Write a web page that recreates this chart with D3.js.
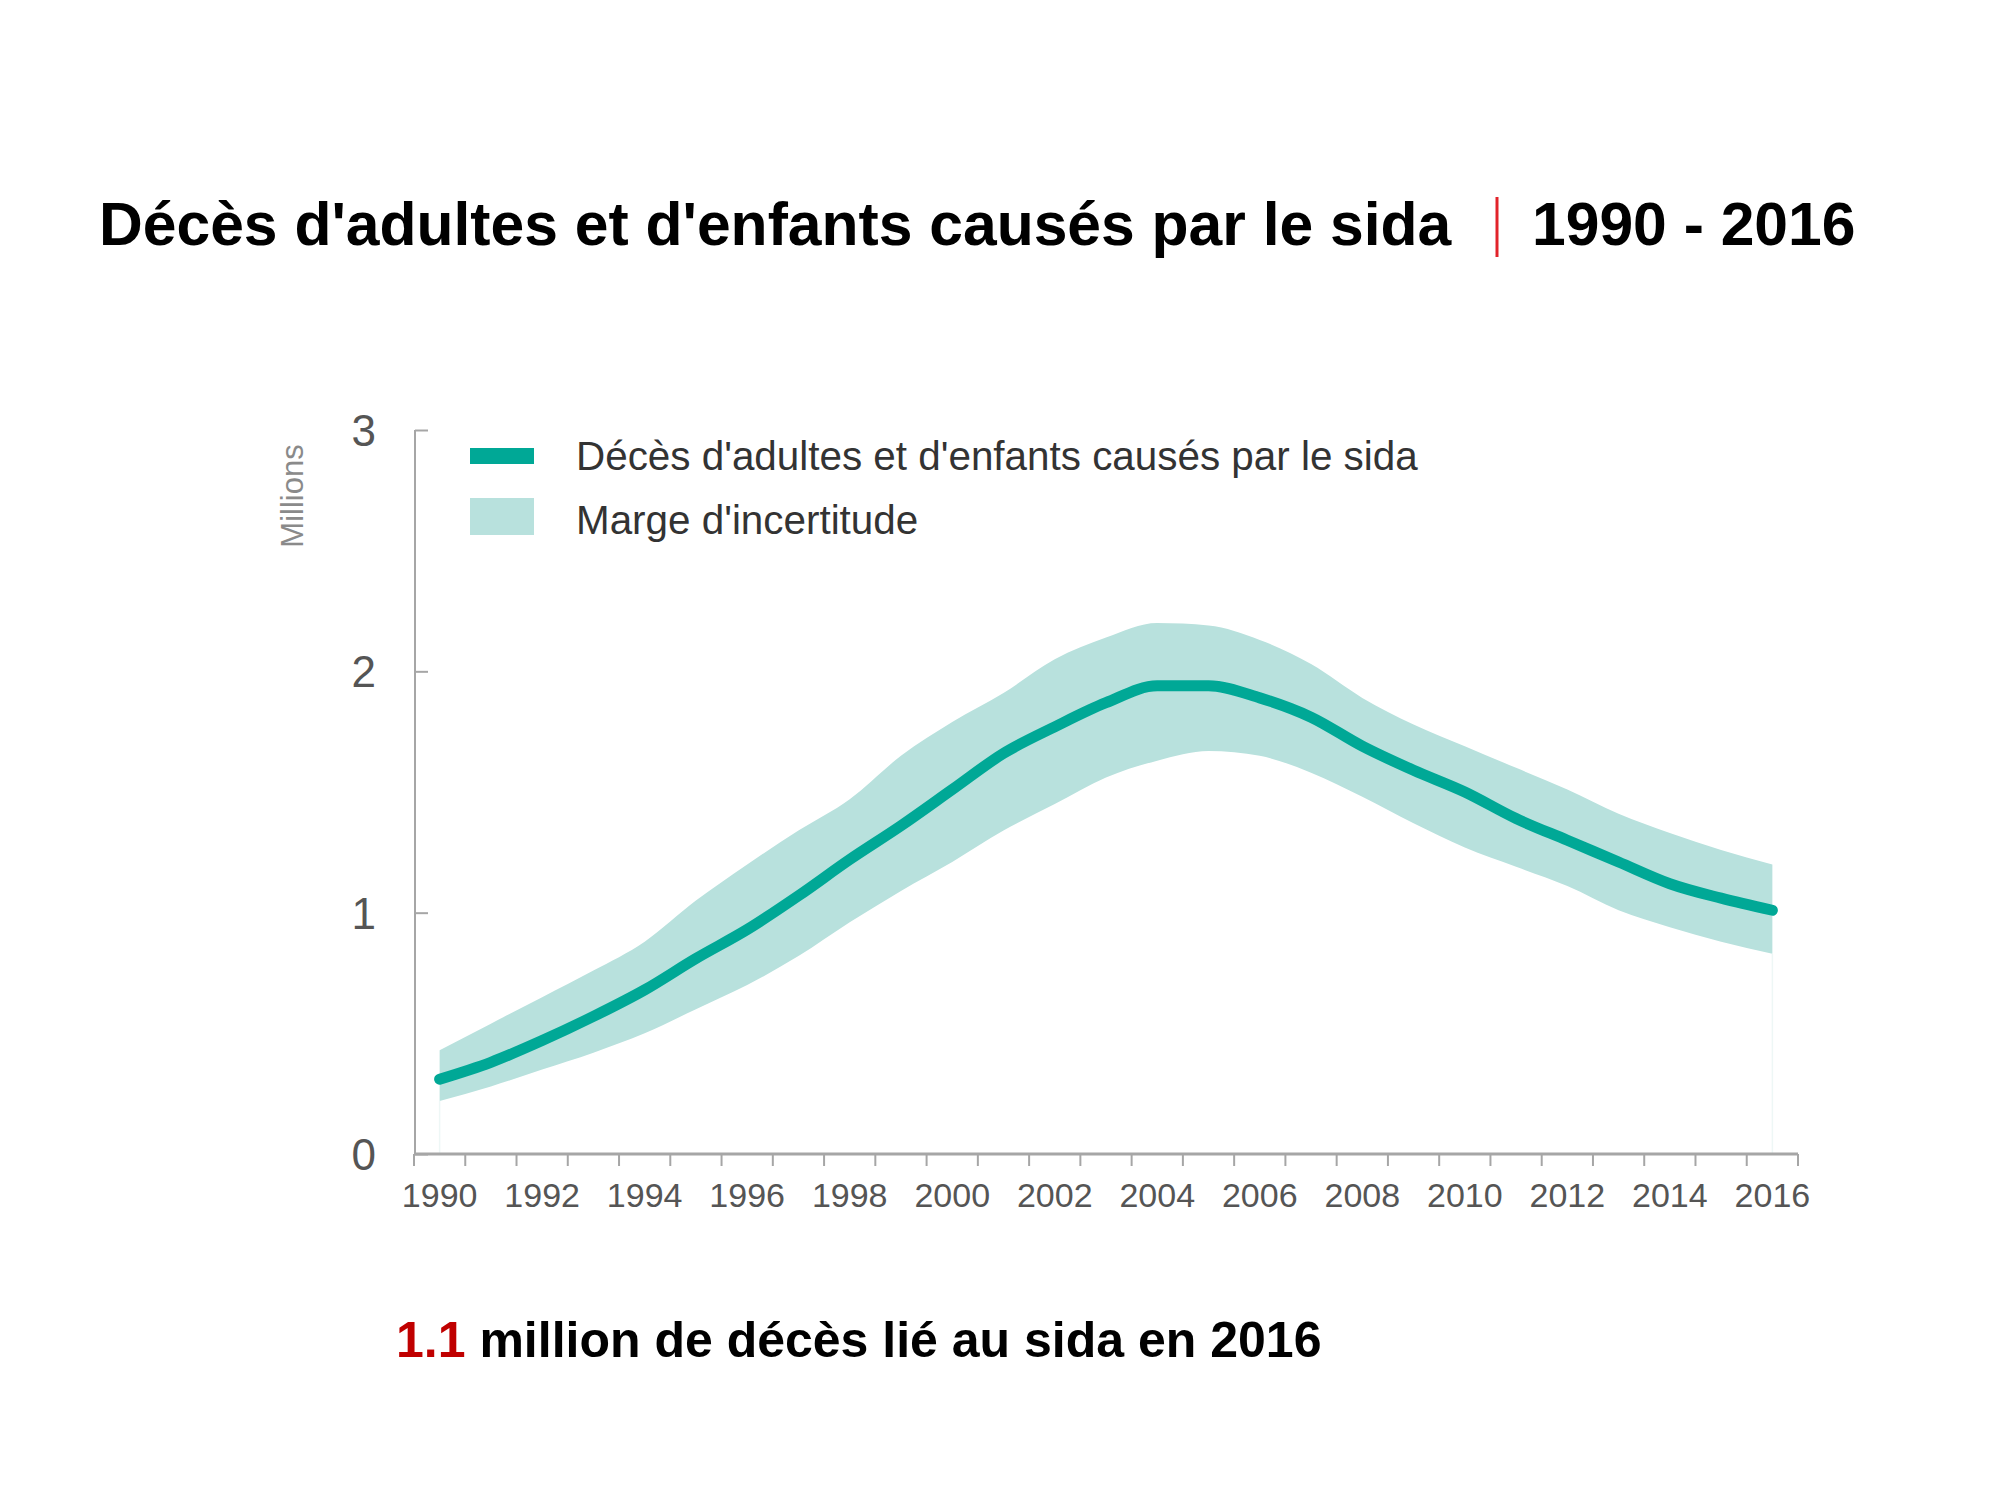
<!DOCTYPE html>
<html>
<head>
<meta charset="utf-8">
<script src="https://cdn.jsdelivr.net/npm/d3@7"></script>
<style>
  html, body { margin: 0; padding: 0; background: #fff; }
  svg { display: block; font-family: "Liberation Sans", Arial, sans-serif; }
</style>
</head>
<body>
<svg id="chart" width="2000" height="1500"></svg>
<script>
// ---- Data (millions) ----
const years = d3.range(1990, 2017);
const deaths = [0.31, 0.38, 0.47, 0.57, 0.68, 0.81, 0.93, 1.07, 1.22, 1.36,
                1.51, 1.66, 1.77, 1.87, 1.94, 1.94, 1.89, 1.81, 1.69, 1.59,
                1.50, 1.39, 1.30, 1.21, 1.12, 1.06, 1.01];
const upper  = [0.43, 0.54, 0.65, 0.76, 0.88, 1.05, 1.20, 1.34, 1.47, 1.65,
                1.79, 1.91, 2.05, 2.14, 2.20, 2.19, 2.13, 2.03, 1.89, 1.78,
                1.69, 1.60, 1.51, 1.41, 1.33, 1.26, 1.20];
const lower  = [0.22, 0.28, 0.35, 0.42, 0.50, 0.60, 0.70, 0.82, 0.96, 1.09,
                1.21, 1.34, 1.45, 1.56, 1.63, 1.67, 1.65, 1.58, 1.48, 1.37,
                1.27, 1.19, 1.11, 1.01, 0.94, 0.88, 0.83];
const yTicks = [0, 1, 2, 3];
const xTickLabels = years.filter(y => y % 2 === 0);

const titleMain = "Décès d'adultes et d'enfants causés par le sida";
const titleYears = "1990 - 2016";
const legendLabels = ["Décès d'adultes et d'enfants causés par le sida", "Marge d'incertitude"];
const yAxisLabel = "Millions";
const noteValue = "1.1";
const noteText = " million de décès lié au sida en 2016";

// ---- Layout ----
const svg = d3.select("#chart");
const plotLeft = 414, plotRight = 1798, plotTop = 430, plotBottom = 1154;

const x = d3.scaleBand().domain(years).range([plotLeft, plotRight]).paddingInner(0).paddingOuter(0);
const y = d3.scaleLinear().domain([0, 3]).range([plotBottom, plotTop]);
const cx = yr => x(yr) + x.bandwidth() / 2;

const teal = "#00a896", band = "#b8e1dd", axisCol = "#a6a6a6", tickText = "#555555";

// ---- Title ----
svg.append("text").attr("x", 99).attr("y", 245)
  .attr("font-size", 60.6).attr("font-weight", "bold").attr("fill", "#000")
  .text(titleMain);
svg.append("line").attr("x1", 1497).attr("x2", 1497).attr("y1", 197).attr("y2", 257)
  .attr("stroke", "#e2232a").attr("stroke-width", 3);
svg.append("text").attr("x", 1532).attr("y", 245)
  .attr("font-size", 60.6).attr("font-weight", "bold").attr("fill", "#000")
  .text(titleYears);

// ---- Uncertainty band ----
const data = years.map((yr, i) => ({ yr, v: deaths[i], lo: lower[i], hi: upper[i] }));
const area = d3.area().x(d => cx(d.yr)).y0(d => y(d.lo)).y1(d => y(d.hi)).curve(d3.curveMonotoneX);
svg.append("path").datum(data).attr("d", area).attr("fill", band);

// faint end verticals
[data[0], data[data.length - 1]].forEach(d => {
  svg.append("line").attr("x1", cx(d.yr)).attr("x2", cx(d.yr))
    .attr("y1", y(d.lo)).attr("y2", y(0))
    .attr("stroke", "#eef7f6").attr("stroke-width", 1.5);
});

// ---- Axes ----
const xAxis = d3.axisBottom(x).tickSize(0).tickFormat(d => xTickLabels.includes(d) ? d : "");
const gx = svg.append("g").attr("transform", `translate(0,${plotBottom})`).call(xAxis);
gx.select(".domain").remove();
gx.selectAll("text").attr("font-size", 34).attr("fill", tickText)
  .attr("font-family", "Liberation Sans, Arial, sans-serif").attr("dy", 0).attr("y", 53);
// boundary ticks
const bounds = years.map(yr => x(yr)).concat([plotRight]);
svg.append("g").selectAll("line").data(bounds).join("line")
  .attr("x1", d => d).attr("x2", d => d).attr("y1", plotBottom).attr("y2", plotBottom + 12)
  .attr("stroke", axisCol).attr("stroke-width", 2);
svg.append("line").attr("x1", plotLeft).attr("x2", plotRight).attr("y1", plotBottom).attr("y2", plotBottom)
  .attr("stroke", axisCol).attr("stroke-width", 3);

const yAxis = d3.axisRight(y).tickValues(yTicks).tickSize(13).tickFormat("");
const gy = svg.append("g").attr("transform", `translate(${plotLeft + 1},0)`).call(yAxis);
gy.select(".domain").attr("stroke", axisCol).attr("stroke-width", 2).attr("d", `M0,${plotTop}V${plotBottom}`);
gy.selectAll(".tick line").attr("stroke", axisCol).attr("stroke-width", 2);
svg.append("g").selectAll("text").data(yTicks).join("text")
  .attr("x", 376).attr("y", d => y(d)).attr("dy", "0.36em")
  .attr("text-anchor", "end").attr("font-size", 44).attr("fill", tickText)
  .text(d => d);

svg.append("text").attr("transform", `translate(303,496) rotate(-90)`)
  .attr("text-anchor", "middle").attr("font-size", 31).attr("fill", "#8a8a8a")
  .text(yAxisLabel);

// ---- Main line ----
const line = d3.line().x(d => cx(d.yr)).y(d => y(d.v)).curve(d3.curveMonotoneX);
svg.append("path").datum(data).attr("d", line)
  .attr("fill", "none").attr("stroke", teal).attr("stroke-width", 11)
  .attr("stroke-linecap", "round").attr("stroke-linejoin", "round");

// ---- Legend ----
svg.append("rect").attr("x", 470).attr("y", 448).attr("width", 64).attr("height", 16).attr("fill", teal);
svg.append("rect").attr("x", 470).attr("y", 498).attr("width", 64).attr("height", 37).attr("fill", band);
svg.append("text").attr("x", 576).attr("y", 455).attr("dy", "0.36em")
  .attr("font-size", 40.4).attr("fill", "#333").text(legendLabels[0]);
svg.append("text").attr("x", 576).attr("y", 519).attr("dy", "0.36em")
  .attr("font-size", 40.4).attr("fill", "#333").text(legendLabels[1]);

// ---- Note ----
const note = svg.append("text").attr("x", 396).attr("y", 1357)
  .attr("font-size", 50).attr("font-weight", "bold").attr("fill", "#000");
note.append("tspan").attr("fill", "#c00000").text(noteValue);
note.append("tspan").text(noteText);
</script>
</body>
</html>
